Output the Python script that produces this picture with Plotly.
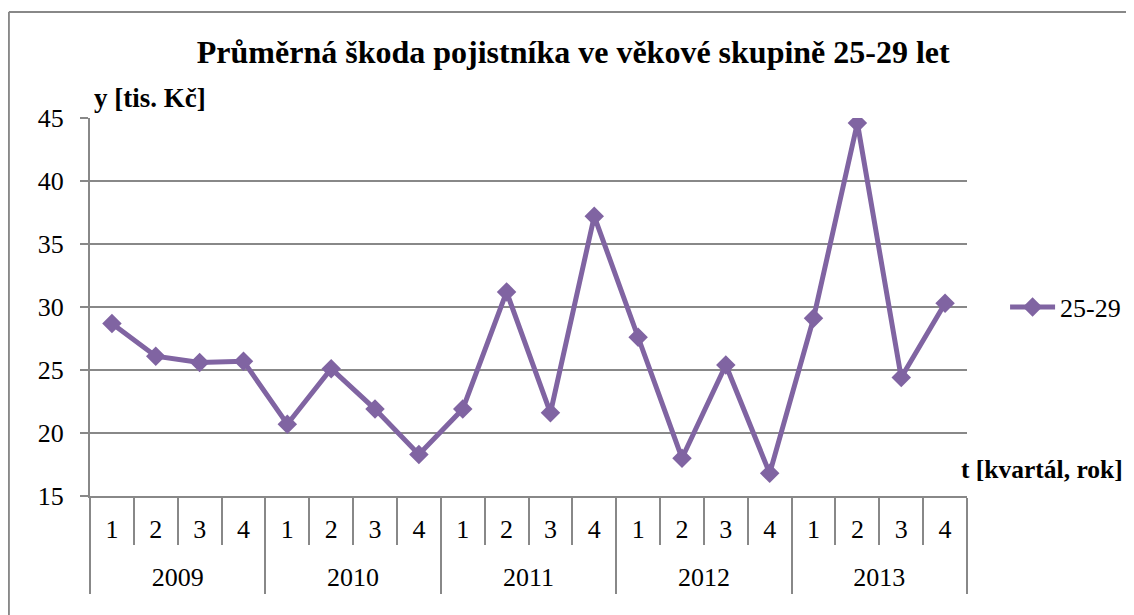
import plotly.graph_objects as go

years = ["2009"] * 4 + ["2010"] * 4 + ["2011"] * 4 + ["2012"] * 4 + ["2013"] * 4
quarters = ["1", "2", "3", "4"] * 5
values = [28.7, 26.1, 25.6, 25.7, 20.7, 25.1, 21.9, 18.3,
          21.9, 31.2, 21.6, 37.2, 27.6, 18.0, 25.4, 16.8,
          29.1, 44.6, 24.4, 30.3]
series_name = "25-29"

title_text = "Průměrná škoda pojistníka ve věkové skupině 25-29 let"
y_label = "y [tis. Kč]"
x_label = "t [kvartál, rok]"

FONT = "Liberation Serif, Times New Roman, serif"
PURPLE = "#8064A2"
GRAY = "#888888"

# category positions derived from the data
pos = list(range(len(values)))
quarter_bounds = [p - 0.5 for p in pos] + [pos[-1] + 0.5]
year_names = []
for y in years:
    if y not in year_names:
        year_names.append(y)
year_centers = [sum(p for p, y in zip(pos, years) if y == yn) / years.count(yn)
                for yn in year_names]
year_bounds = [pos[0] - 0.5] + [p + 0.5 for p in pos[:-1] if years[p] != years[p + 1]] + [pos[-1] + 0.5]
xrange = [pos[0] - 0.5, pos[-1] + 0.5]

fig = go.Figure()
fig.add_trace(go.Scatter(
    x=pos, y=values, name=series_name,
    mode="lines+markers",
    line=dict(color=PURPLE, width=5),
    marker=dict(symbol="diamond", size=15, color=PURPLE),
    hovertext=[f"{q}/{y}" for q, y in zip(quarters, years)],
))
# helper (empty) traces so that the label axes are drawn
fig.add_trace(go.Scatter(x=[], y=[], xaxis="x2", showlegend=False, hoverinfo="skip"))
fig.add_trace(go.Scatter(x=[], y=[], xaxis="x3", showlegend=False, hoverinfo="skip"))

tickfont = dict(family=FONT, size=26, color="black")

fig.update_layout(
    width=1126, height=607,
    margin=dict(l=82, r=167, t=110, b=119, autoexpand=False),
    paper_bgcolor="white", plot_bgcolor="white",
    font=dict(family=FONT, size=26, color="black"),
    title=dict(text="<b>" + title_text + "</b>", x=0.502, xanchor="center",
               xref="container", y=0.928, yanchor="middle",
               font=dict(family=FONT, size=32, color="black")),
    showlegend=True,
    legend=dict(x=0.8855, y=0.5, xref="container", xanchor="left",
                yanchor="middle", itemwidth=45,
                font=dict(family=FONT, size=26, color="black"),
                bgcolor="rgba(0,0,0,0)"),
    xaxis=dict(range=xrange, showgrid=False, zeroline=False, showline=True,
               linecolor=GRAY, linewidth=2,
               tickmode="array", tickvals=year_bounds, showticklabels=False,
               ticks="outside", ticklen=96, tickcolor=GRAY, tickwidth=2,
               minor=dict(tickmode="array", tickvals=quarter_bounds,
                          ticks="outside", ticklen=47, tickcolor=GRAY,
                          tickwidth=2, showgrid=False)),
    xaxis2=dict(range=xrange, overlaying="x", anchor="y", side="bottom",
                showgrid=False, zeroline=False, showline=False, ticks="",
                tickmode="array", tickvals=pos, ticktext=quarters,
                ticklabelstandoff=15, tickfont=tickfont),
    xaxis3=dict(range=xrange, overlaying="x", anchor="y", side="bottom",
                showgrid=False, zeroline=False, showline=False, ticks="",
                tickmode="array", tickvals=year_centers, ticktext=year_names,
                ticklabelstandoff=63, tickfont=tickfont),
    yaxis=dict(range=[15, 45], dtick=5, tick0=15, showgrid=True,
               gridcolor=GRAY, gridwidth=2, showline=True, linecolor=GRAY,
               linewidth=2, ticks="outside", ticklen=8, tickcolor=GRAY,
               tickwidth=2, ticklabelstandoff=11, zeroline=False,
               tickfont=tickfont),
    annotations=[
        dict(text="<b>" + y_label + "</b>", xref="paper", yref="paper",
             x=0.002, y=1.054, xanchor="left", yanchor="middle", showarrow=False,
             font=dict(family=FONT, size=27, color="black")),
        dict(text="<b>" + x_label + "</b>", xref="paper", yref="paper",
             x=0.991, y=0.07, xanchor="left", yanchor="middle", showarrow=False,
             font=dict(family=FONT, size=25.5, color="black")),
    ],
    shapes=[
        dict(type="line", xref="paper", yref="paper", x0=-0.0925, x1=-0.0925,
             y0=-0.4, y1=1.2804, line=dict(color=GRAY, width=2)),
        dict(type="line", xref="paper", yref="paper", x0=-0.0925, x1=1.25,
             y0=1.2804, y1=1.2804, line=dict(color=GRAY, width=2)),
    ],
)

fig.write_html("out.html")
